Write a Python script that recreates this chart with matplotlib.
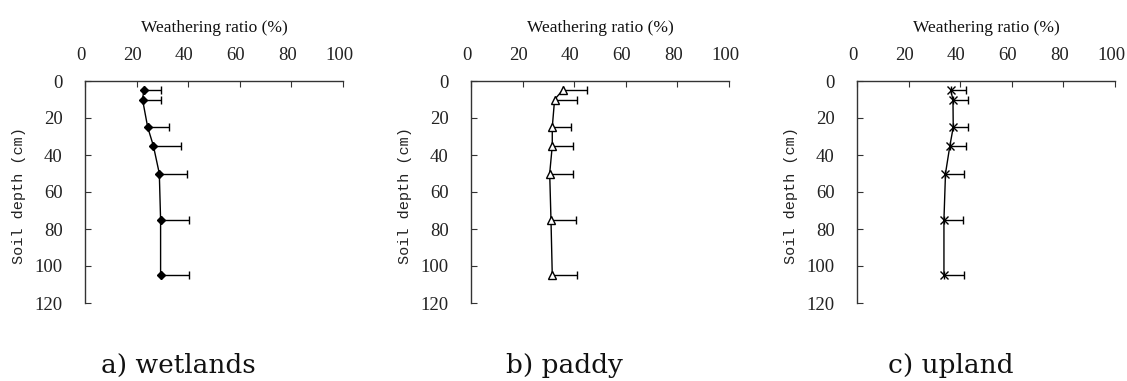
import matplotlib
matplotlib.use('Agg')
import matplotlib.pyplot as plt
from matplotlib.transforms import ScaledTranslation

# ------------------------------------------------------------------------------
# data

depth = [5, 10, 25, 35, 50, 75, 105]

wet_ratio = [22.8, 22.3, 24.3, 26.5, 28.8, 29.3, 29.3]
wet_err = [6.6, 7.1, 8.4, 10.7, 10.8, 11.1, 11.1]

paddy_ratio = [35.5, 32.4, 31.5, 31.5, 30.5, 31.0, 31.5]
paddy_err = [9.3, 8.8, 7.2, 8.1, 9.1, 9.8, 9.7]

upland_ratio = [36.3, 37.2, 37.3, 36.0, 34.3, 33.7, 33.7]
upland_err = [5.8, 5.8, 5.9, 6.3, 7.0, 7.3, 7.6]

captions = ['a) wetlands', 'b) paddy', 'c) upland']
x_ticks = [0, 20, 40, 60, 80, 100]
y_ticks = [0, 20, 40, 60, 80, 100, 120]

# ------------------------------------------------------------------------------


def depth_panel(fig, ax, ratio, err, marker, face, size):
    '''Draws one weathering ratio profile with one-sided error bars'''
    ax.errorbar(ratio, depth, xerr=[[0] * len(err), err], fmt='none',
                ecolor='black', elinewidth=1, capsize=3, capthick=1)
    ax.plot(ratio, depth, color='black', lw=1, marker=marker, ms=size,
            mfc=face, mec='black', mew=1, clip_on=False, zorder=3)

    ax.set_xlim(0, 100)
    ax.set_ylim(120, 0)
    ax.set_xticks(x_ticks)
    ax.set_yticks(y_ticks)
    ax.xaxis.tick_top()
    for side in ['right', 'bottom']:
        ax.spines[side].set_visible(False)
    for side in ['left', 'top']:
        ax.spines[side].set_color('#333333')
        ax.spines[side].set_linewidth(1)
    ax.tick_params(axis='x', direction='in', length=4, pad=12,
                   labelsize=13.5, colors='#333333', labelcolor='#222222')
    ax.tick_params(axis='y', direction='in', length=4, pad=16,
                   labelsize=13.5, colors='#333333', labelcolor='#222222')
    shift = ScaledTranslation(-4 / 100, 0, fig.dpi_scale_trans)
    for lab in ax.get_xticklabels():
        lab.set_fontfamily('Liberation Serif')
        lab.set_transform(lab.get_transform() + shift)
    for lab in ax.get_yticklabels():
        lab.set_fontfamily('Liberation Serif')

    ax.text(0.5, 1.22, 'Weathering ratio (%)', transform=ax.transAxes,
            ha='center', va='baseline', fontsize=12.5,
            family='Liberation Serif', color='#111111')
    ax.text(-0.256, 0.486, 'Soil depth (cm)', transform=ax.transAxes,
            ha='center', va='center', rotation=90, fontsize=11,
            family='Liberation Mono', color='#222222')


fig = plt.figure(figsize=(11.27, 3.81), dpi=100)

lefts = [85, 471, 857]
panels = [(wet_ratio, wet_err, 'D', 'black', 4.5),
          (paddy_ratio, paddy_err, '^', 'white', 6),
          (upland_ratio, upland_err, 'x', 'black', 6)]
cap_x = [178, 564, 951]

for left, (ratio, err, marker, face, size), cap, cx in zip(lefts, panels, captions, cap_x):
    ax = fig.add_axes([left / 1127, 1 - 303 / 381, 258 / 1127, 222 / 381])
    depth_panel(fig, ax, ratio, err, marker, face, size)
    fig.text(cx / 1127, 8 / 381, cap, ha='center', va='baseline',
             fontsize=19, family='DejaVu Serif', color='#111111')

fig.savefig('out.png', dpi=100)
